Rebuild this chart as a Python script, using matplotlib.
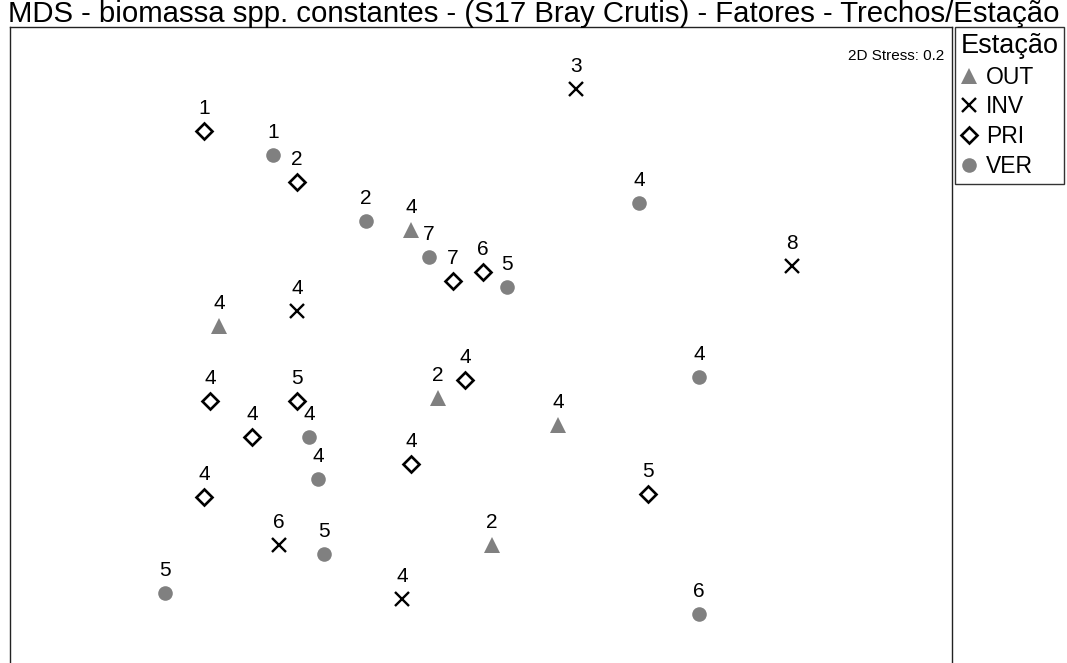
import matplotlib
matplotlib.use("Agg")
import matplotlib.pyplot as plt
from matplotlib.lines import Line2D

plt.rcParams['font.family'] = ['Liberation Sans', 'DejaVu Sans']

# MDS ordination coordinates (dimension 1, dimension 2) and stretch labels, by season
pri_x = [-0.92, -0.61, -0.09, 0.01, -0.05, -0.90, -0.61, -0.76, -0.23, -0.92, 0.56]
pri_y = [0.73, 0.56, 0.23, 0.26, -0.10, -0.17, -0.17, -0.29, -0.38, -0.49, -0.48]
pri_lab = ["1", "2", "7", "6", "4", "4", "5", "4", "4", "4", "5"]

ver_x = [-0.69, -0.38, -0.17, 0.09, 0.53, 0.73, -0.57, -0.54, -0.52, -1.05, 0.73]
ver_y = [0.65, 0.43, 0.31, 0.21, 0.49, -0.09, -0.29, -0.43, -0.68, -0.81, -0.88]
ver_lab = ["1", "2", "7", "5", "4", "4", "4", "4", "5", "5", "6"]

out_x = [-0.23, -0.87, -0.14, 0.26, 0.04]
out_y = [0.40, 0.08, -0.16, -0.25, -0.65]
out_lab = ["4", "4", "2", "4", "2"]

inv_x = [0.32, 1.04, -0.61, -0.67, -0.26]
inv_y = [0.87, 0.28, 0.13, -0.65, -0.83]
inv_lab = ["3", "8", "4", "6", "4"]

title = "MDS - biomassa spp. constantes - (S17 Bray Crutis) - Fatores - Trechos/Estação"
stress_text = "2D Stress: 0.2"
legend_title = "Estação"

W, H = 1067, 663
fig = plt.figure(figsize=(W / 100, H / 100), dpi=100)
ax = fig.add_axes([10 / W, -5 / H, 942 / W, 641 / H])
ax.set_xlim(-1.567, 1.573)
ax.set_ylim(-1.06, 1.077)
ax.set_xticks([])
ax.set_yticks([])
for s in ax.spines.values():
    s.set_color("#222222")
    s.set_linewidth(1.0)

gray = "#808080"
styles = {
    "OUT": dict(marker="^", color=gray, ms=12, mec=gray, mew=0),
    "INV": dict(marker="x", color="black", ms=10, mew=1.7),
    "PRI": dict(marker="D", color="white", ms=8, mec="black", mew=1.9),
    "VER": dict(marker="o", color=gray, ms=10.5, mec=gray, mew=0),
}
series = [
    ("OUT", out_x, out_y, out_lab),
    ("INV", inv_x, inv_y, inv_lab),
    ("PRI", pri_x, pri_y, pri_lab),
    ("VER", ver_x, ver_y, ver_lab),
]
for name, xs, ys, labs in series:
    st = styles[name]
    ax.plot(xs, ys, linestyle="none", marker=st["marker"], mfc=st["color"],
            mec=st.get("mec", st["color"]), ms=st["ms"], mew=st["mew"], zorder=3)
    for x, y, t in zip(xs, ys, labs):
        ax.annotate(t, (x, y), xytext=(0, 23), textcoords="offset pixels",
                    ha="center", va="center", fontsize=15, color="black")

ax.annotate(stress_text, (1, 1), xycoords="axes fraction", xytext=(-8, -29),
            textcoords="offset pixels", ha="right", va="center", fontsize=11)

fig.text(0.5, 1 - 22 / H, title, ha="center", va="baseline", fontsize=21.2)

handles = []
for name, _, _, _ in series:
    st = styles[name]
    handles.append(Line2D([], [], linestyle="none", marker=st["marker"], mfc=st["color"],
                          mec=st.get("mec", st["color"]), ms=st["ms"], mew=st["mew"]))
leg = fig.legend(handles, [s[0] for s in series], title=legend_title,
                 loc="upper left", bbox_to_anchor=(955 / W, 1 - 27 / H),
                 fontsize=16.5, title_fontsize=19.5, frameon=True, fancybox=False,
                 borderpad=0.25, handlelength=0.7, handletextpad=0.4,
                 labelspacing=0.3, borderaxespad=0)
leg.get_frame().set_edgecolor("black")
leg.get_frame().set_linewidth(1.0)
leg._legend_box.align = "left"

fig.savefig("out.png", dpi=100)
